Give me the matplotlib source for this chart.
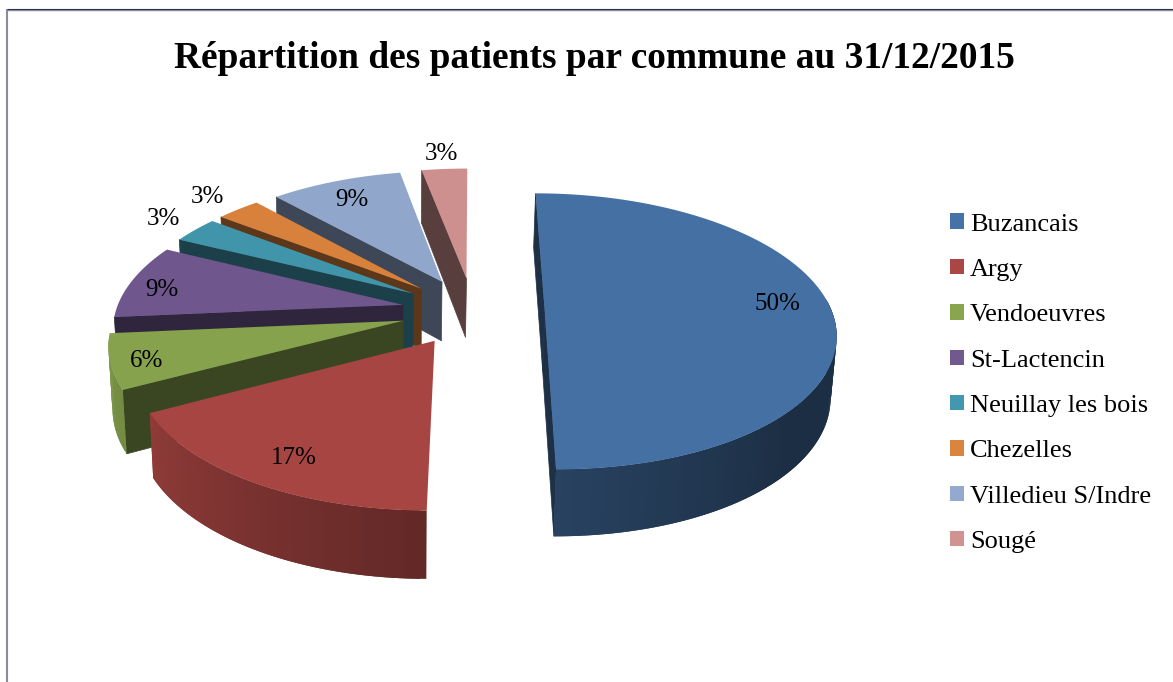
"""
Répartition des patients par commune : camembert 3D éclaté
"""
import matplotlib
matplotlib.use('Agg')

from matplotlib import pyplot as plt
from matplotlib.patches import Patch, Polygon
import numpy as np

plt.rcParams['font.family'] = ['Liberation Serif', 'DejaVu Serif']

communes = ['Buzancais', 'Argy', 'Vendoeuvres', 'St-Lactencin',
            'Neuillay les bois', 'Chezelles', 'Villedieu S/Indre', 'Sougé']
valeurs = [50, 17.2, 6.3, 8.7, 3.1, 2.9, 8.7, 3.0]
couleurs = ['#4572A7', '#AA4643', '#89A54E', '#71588F',
            '#4198AF', '#DB843D', '#93A9CF', '#D19392']
titre = 'Répartition des patients par commune au 31/12/2015'

# position des étiquettes (pixels)
etiquettes_x = [777, 294, 147, 162, 163, 207, 352, 441]
etiquettes_y = [304, 458, 361, 290, 219, 197, 200, 154]

# projection du disque
VX, VY = 473, 311
RX, RY = 287, 135
PERSP = 0.147
ECLATE = 0.25


def projection(wx, wy, z=0.0):
    s = 1 / (1 - PERSP * wy)
    x = VX + RX * wx * s
    # le bas du disque est un peu plus étroit et décalé
    x = x - z * (0.014 * (x - 470) + 1)
    return x, VY + RY * wy * s + z * (60.5 + 6.5 * wy)


def assombrir(couleur, f):
    return tuple(c * f for c in matplotlib.colors.to_rgb(couleur))


def lumiere(theta):
    # lumière du bord extérieur selon l'angle (degrés)
    return np.interp(theta, [90, 130, 180, 241, 265, 360],
                     [0.40, 0.40, 0.58, 0.84, 0.92, 0.92])


def face(ax, wx, wy, ox, oy, couleur):
    sombre = assombrir(couleur, 0.42)
    pts = [projection(wx, wy), projection(ox, oy),
           projection(ox, oy, 1), projection(wx, wy, 1)]
    ax.add_patch(Polygon(pts, fc=sombre, ec=sombre, lw=0.5))


def tranche(ax, debut, fin, couleur):
    milieu = np.radians((debut + fin) / 2)
    ox, oy = ECLATE * np.sin(milieu), -ECLATE * np.cos(milieu)
    angles = np.arange(debut, fin + 0.5, 1.0)
    angles[-1] = fin
    rad = np.radians(angles)
    wx = ox + np.sin(rad)
    wy = oy - np.cos(rad)

    # faces intérieures visibles
    if debut > 181 or debut < 1:
        face(ax, wx[0], wy[0], ox, oy, couleur)
    if abs(fin - 180) < 1:
        face(ax, wx[-1], wy[-1], ox, oy, couleur)

    # bord extérieur, bande par bande (chaque bande recouvre la suivante)
    for i in range(len(angles) - 1):
        if not 85 <= angles[i] <= 264:
            continue
        j = min(i + 2, len(angles) - 1)
        c = assombrir(couleur, lumiere(angles[i]))
        pts = [projection(wx[i], wy[i]), projection(wx[j], wy[j]),
               projection(wx[j], wy[j], 1), projection(wx[i], wy[i], 1)]
        ax.add_patch(Polygon(pts, fc=c, ec='none'))

    # dessus
    x, y = projection(wx, wy)
    pts = np.column_stack([np.append(x, projection(ox, oy)[0]),
                           np.append(y, projection(ox, oy)[1])])
    ax.add_patch(Polygon(pts, fc=assombrir(couleur, 0.98), ec='none'))


fig = plt.figure(figsize=(11.73, 6.82), dpi=100)
ax = fig.add_axes([0, 0, 1, 1])
ax.set_xlim(0, 1173)
ax.set_ylim(682, 0)
ax.axis('off')

# cadre du graphique
ax.plot([7, 7], [9, 682], color='#8C8C96', lw=1.5, solid_capstyle='butt')
ax.plot([7, 1173], [10, 10], color='#8C8C96', lw=1.0, solid_capstyle='butt')
ax.plot([7, 1173], [9, 9], color='#28345A', lw=0.8, solid_capstyle='butt')

ax.text(594.5, 58, titre, fontsize=26.9, fontweight='bold', ha='center', va='center')

# de l'arrière vers l'avant
bornes = np.cumsum([0] + valeurs) / sum(valeurs) * 360
for i in range(len(valeurs) - 1, -1, -1):
    tranche(ax, bornes[i], bornes[i + 1], couleurs[i])

for v, x, y in zip(valeurs, etiquettes_x, etiquettes_y):
    ax.text(x, y, f'{v:.0f}%', fontsize=18, ha='center', va='center', color='black')

poignees = [Patch(fc=c, ec='none') for c in couleurs]
ax.legend(poignees, communes, loc='upper left', frameon=False, fontsize=19,
          bbox_to_anchor=(950, 213.5), bbox_transform=ax.transData,
          borderpad=0, borderaxespad=0, handlelength=0.53, handleheight=0.53,
          handletextpad=0.23, labelspacing=0.88)

plt.savefig('out.png', dpi=100)
plt.close()
